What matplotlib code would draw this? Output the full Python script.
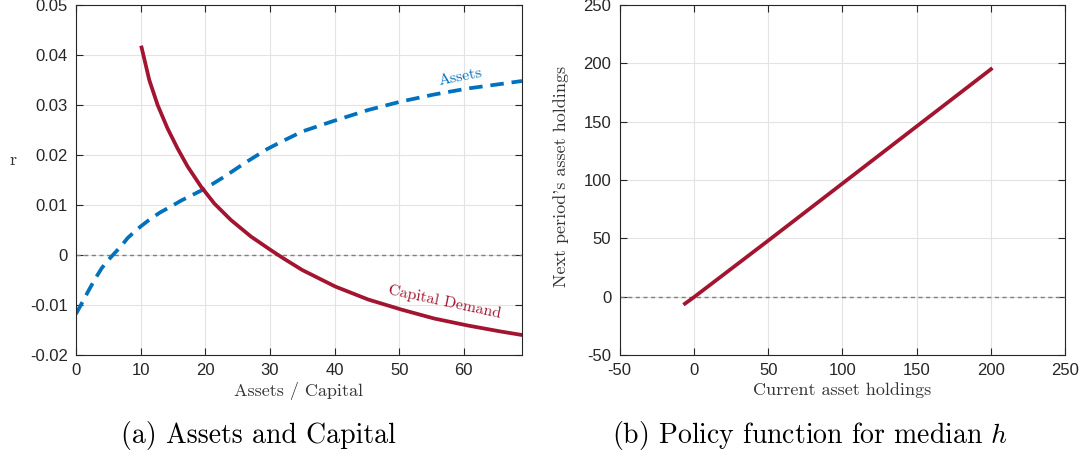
import numpy as np
import matplotlib.pyplot as plt

plt.rcParams['mathtext.fontset'] = 'cm'
plt.rcParams['font.family'] = ['Liberation Sans', 'DejaVu Sans']

# left panel: capital demand and asset supply
cap_x = [10.15, 11.34, 12.63, 14.17, 15.72, 17.27, 19.33, 21.4, 23.97, 27.06, 30.0, 32.0,
         35.0, 40.1, 45.2, 50.3, 55.4, 60.6, 65.7, 69]
cap_r = [0.0415, 0.0350, 0.0300, 0.0253, 0.0213, 0.0177, 0.0137, 0.0103, 0.0070, 0.0037,
         0.0011, -0.0006, -0.0030, -0.0063, -0.0089, -0.0109, -0.0127, -0.0141, -0.0153, -0.0160]
ass_x = [0, 1, 2, 3, 4, 5, 6, 7, 8, 9, 10, 11.3, 13, 14.7, 16.3, 18, 20, 21.5, 23, 24.5,
         26, 27.6, 29.6, 31.7, 35, 39.6, 45.2, 50.3, 55.4, 60.6, 65.7, 69]
ass_r = [-0.0118, -0.0094, -0.0070, -0.0047, -0.0026, -0.0010, 0.0004, 0.0018, 0.0034,
         0.0046, 0.0057, 0.0070, 0.0085, 0.0097, 0.0109, 0.0120, 0.0133, 0.0145, 0.0157,
         0.0170, 0.0183, 0.0196, 0.0212, 0.0226, 0.0247, 0.0267, 0.0290, 0.0307, 0.0321,
         0.0333, 0.0342, 0.0348]

# right panel: policy function
pol_x = [-6, 0, 50, 100, 150, 200]
pol_y = [-6, -0.5, 48, 97, 146, 195]

red = '#A2142F'
blue = '#0072BD'

fig = plt.figure(figsize=(10.87, 4.59), dpi=100)
ax1 = fig.add_axes([0.0699, 0.2266, 0.4103, 0.7625])
ax2 = fig.add_axes([0.570, 0.2266, 0.410, 0.7625])

def style(ax):
    ax.grid(True, color='#e3e3e3', lw=0.8)
    ax.set_axisbelow(True)
    for s in ax.spines.values():
        s.set_color('#262626')
        s.set_linewidth(0.8)
    ax.tick_params(direction='in', top=True, right=True, labelsize=12,
                   colors='#262626', length=5, pad=6)
    ax.axhline(0, color='#808080', ls='--', lw=1, dashes=(3, 2.5), zorder=1)

style(ax1)
ax1.plot(ass_x, ass_r, color=blue, lw=2.7, ls='--', dashes=(3.6, 2.1))
ax1.plot(cap_x, cap_r, color=red, lw=2.7)
ax1.set_xlim(0, 69)
ax1.set_ylim(-0.02, 0.05)
ax1.set_xticks(range(0, 70, 10))
ax1.set_yticks(np.arange(-0.02, 0.051, 0.01))
ax1.set_yticklabels(['-0.02', '-0.01', '0', '0.01', '0.02', '0.03', '0.04', '0.05'])
ax1.set_xlabel('Assets / Capital', fontfamily='cmr10', fontsize=13, color='#333333', labelpad=3)
ax1.set_ylabel('r', fontfamily='cmr10', fontsize=13, color='#333333', rotation=0)
ax1.yaxis.set_label_coords(-0.141, 0.534)
ax1.text(59.5, 0.0355, 'Assets', color=blue, fontfamily='cmr10', fontsize=11.5,
         rotation=11, ha='center', va='center')
ax1.text(57.1, -0.0094, 'Capital Demand', color=red, fontfamily='cmr10', fontsize=11.5,
         rotation=-12, ha='center', va='center')

style(ax2)
ax2.plot(pol_x, pol_y, color=red, lw=2.7)
ax2.set_xlim(-50, 250)
ax2.set_ylim(-50, 250)
ax2.set_xticks(range(-50, 251, 50))
ax2.set_yticks(range(-50, 251, 50))
ax2.set_xticklabels([str(v) for v in range(-50, 251, 50)])
ax2.set_yticklabels([str(v) for v in range(-50, 251, 50)])
ax2.set_xlabel('Current asset holdings', fontfamily='cmr10', fontsize=13, color='#333333', labelpad=3)
ax2.set_ylabel("Next period's asset holdings", fontfamily='cmr10', fontsize=13, color='#333333')
ax2.yaxis.set_label_coords(-0.113, 0.51)

fig.text(0.2375, 0.052, '(a) Assets and Capital', fontfamily='cmr10', fontsize=20,
         ha='center', va='center')
fig.text(0.745, 0.052, r'(b) Policy function for median $h$', fontfamily='cmr10', fontsize=20,
         ha='center', va='center')

fig.savefig('out.png', dpi=100)
